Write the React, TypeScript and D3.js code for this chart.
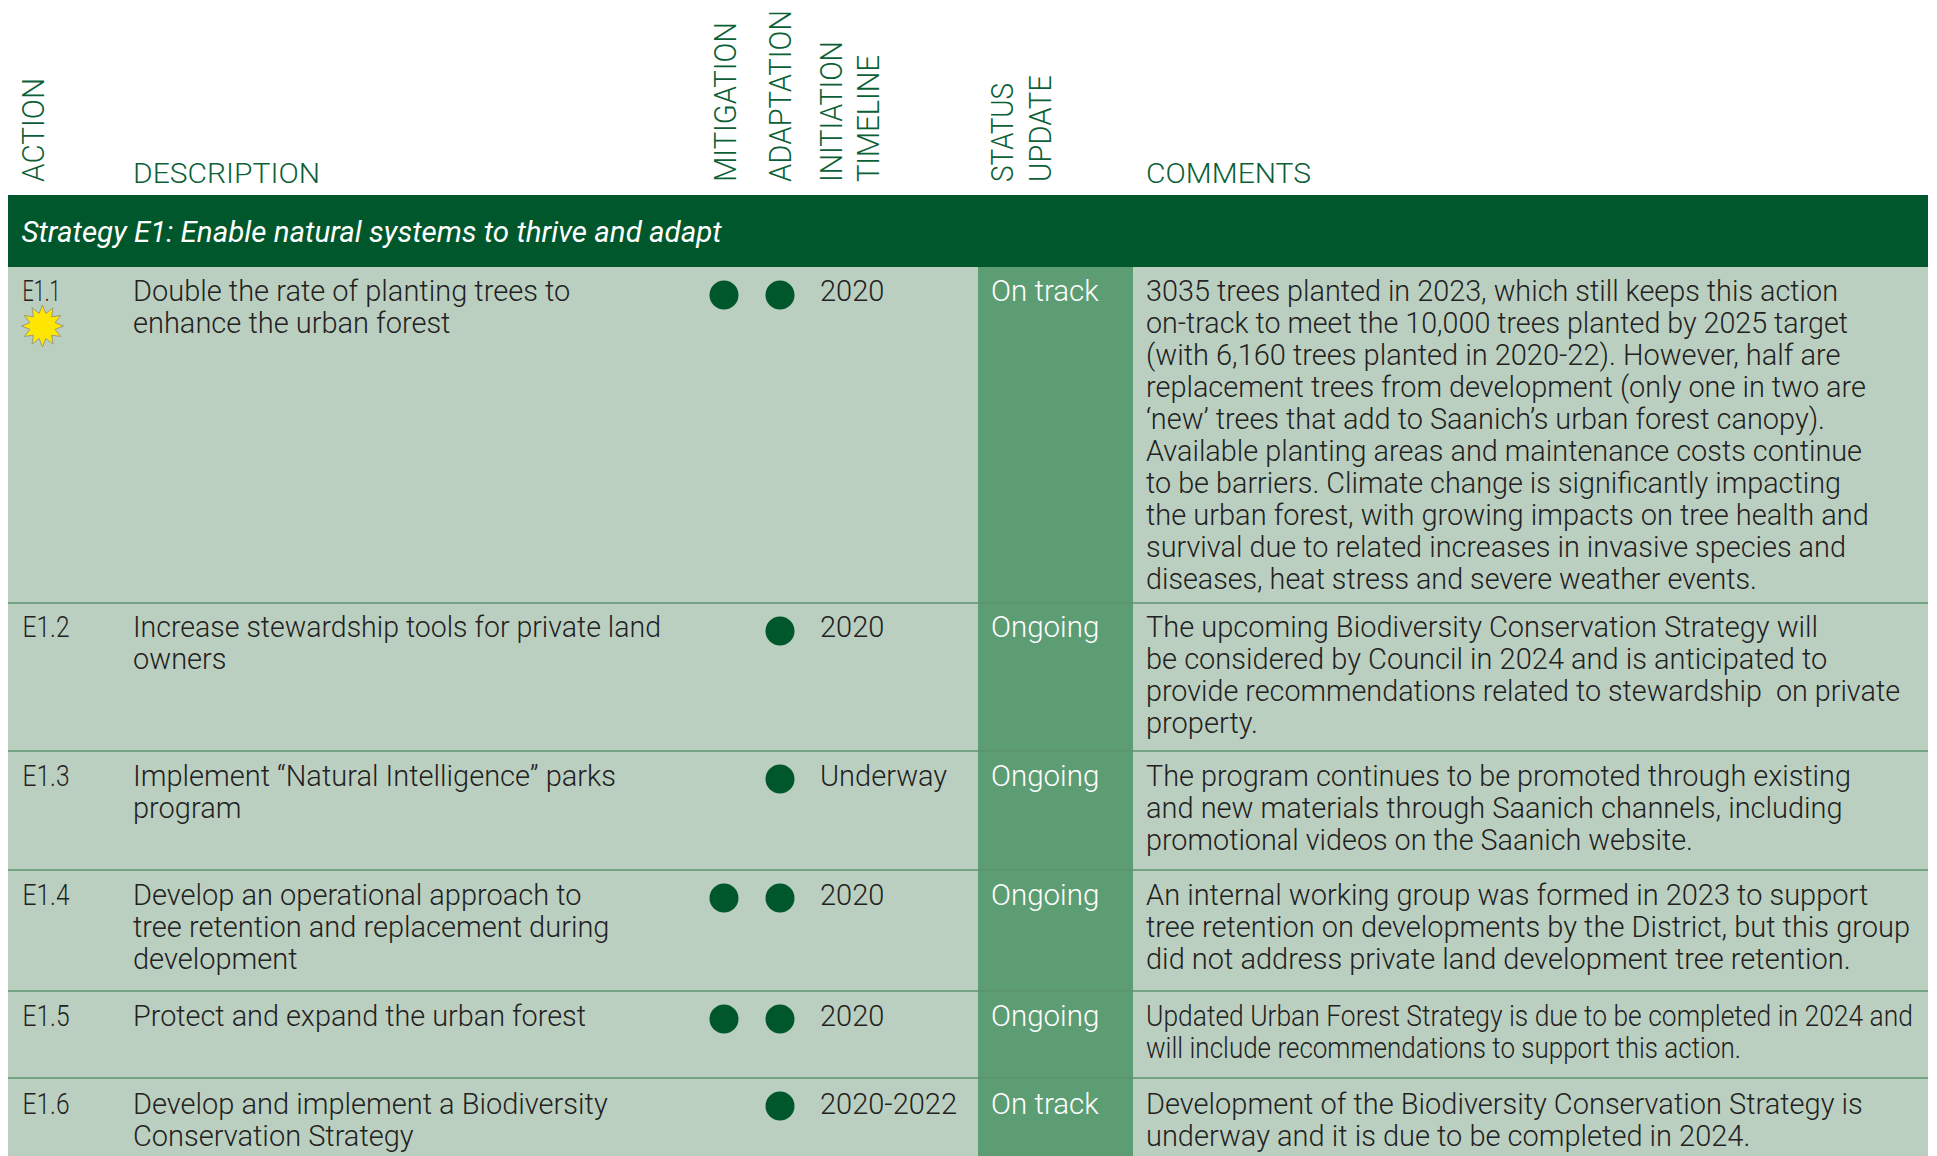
import React from 'react';
import * as d3 from 'd3';

const actions = ['E1.1', 'E1.2', 'E1.3', 'E1.4', 'E1.5', 'E1.6'];
const descriptions = [
  ['Double the rate of planting trees to', 'enhance the urban forest'],
  ['Increase stewardship tools for private land', 'owners'],
  ['Implement “Natural Intelligence” parks', 'program'],
  ['Develop an operational approach to', 'tree retention and replacement during', 'development'],
  ['Protect and expand the urban forest'],
  ['Develop and implement a Biodiversity', 'Conservation Strategy'],
];
const mitigation = [true, false, false, true, true, false];
const adaptation = [true, true, true, true, true, true];
const timeline = ['2020', '2020', 'Underway', '2020', '2020', '2020-2022'];
const statuses = ['On track', 'Ongoing', 'Ongoing', 'Ongoing', 'Ongoing', 'On track'];
const comments = [
  [
    '3035 trees planted in 2023, which still keeps this action',
    'on-track to meet the 10,000 trees planted by 2025 target',
    '(with 6,160 trees planted in 2020-22). However, half are',
    'replacement trees from development (only one in two are',
    '‘new’ trees that add to Saanich’s urban forest canopy).',
    'Available planting areas and maintenance costs continue',
    'to be barriers. Climate change is significantly impacting',
    'the urban forest, with growing impacts on tree health and',
    'survival due to related increases in invasive species and',
    'diseases, heat stress and severe weather events.',
  ],
  [
    'The upcoming Biodiversity Conservation Strategy will',
    'be considered by Council in 2024 and is anticipated to',
    'provide recommendations related to stewardship  on private',
    'property.',
  ],
  [
    'The program continues to be promoted through existing',
    'and new materials through Saanich channels, including',
    'promotional videos on the Saanich website.',
  ],
  [
    'An internal working group was formed in 2023 to support',
    'tree retention on developments by the District, but this group',
    'did not address private land development tree retention.',
  ],
  [
    'Updated Urban Forest Strategy is due to be completed in 2024 and',
    'will include recommendations to support this action.',
  ],
  [
    'Development of the Biodiversity Conservation Strategy is',
    'underway and it is due to be completed in 2024.',
  ],
];
const strategyTitle = 'Strategy E1: Enable natural systems to thrive and adapt';

const W = 1937;
const H = 1156;
const TABLE_L = 8;
const TABLE_R = 1928;
const BAND_TOP = 195;
const BAND_BOTTOM = 267;
const LINE_H = 32;
const DARK = '#00572c';
const LIGHT = '#bbcfc0';
const MID = '#5d9d74';
const HEAD = '#0c5f36';
const INK = '#222';
const BODY = 'Roboto, sans-serif';

// row edges and first baselines
const rowEdges = [267, 603, 751, 870, 991, 1078, 1156];
const baseOffsets = [34, 34, 35, 35, 35, 36];
const y = d3.scaleOrdinal<string, number>().domain(actions).range(rowEdges);

// the E1.x labels are set tight in the original
const actionWidths = [38, 47, 47, 47, 47, 47];
// lines whose width in the original differs from what Roboto gives
const lineWidths: Record<string, number> = {
  'Updated Urban Forest Strategy is due to be completed in 2024 and': 767,
  'will include recommendations to support this action.': 595,
  '3035 trees planted in 2023, which still keeps this action': 692,
  'on-track to meet the 10,000 trees planted by 2025 target': 702,
  'replacement trees from development (only one in two are': 720,
  '‘new’ trees that add to Saanich’s urban forest canopy).': 679,
  'Available planting areas and maintenance costs continue': 716,
  'to be barriers. Climate change is significantly impacting': 695,
  'survival due to related increases in invasive species and': 700,
  'diseases, heat stress and severe weather events.': 611,
  'provide recommendations related to stewardship  on private': 754,
  'The program continues to be promoted through existing': 705,
  'promotional videos on the Saanich website.': 547,
  'Increase stewardship tools for private land': 528,
  'Protect and expand the urban forest': 453,
};

// rotated header labels: label, baseline x, length
const rotatedHeaders: [string, number, number][] = [
  ['ACTION', 43.5, 104],
  ['MITIGATION', 736, 160],
  ['ADAPTATION', 791, 172],
  ['INITIATION', 841.5, 141],
  ['TIMELINE', 879, 127],
  ['STATUS', 1013, 99],
  ['UPDATE', 1050.5, 107],
];

const dotX = { mitigation: 724, adaptation: 780 };
const circle = d3.symbol().type(d3.symbolCircle).size(Math.PI * 14.5 * 14.5)() as string;

const starPoints = d3.range(24).map((i) => [
  (i * Math.PI) / 12,
  i % 2 === 0 ? 21 : 13,
]) as [number, number][];
const star = d3.lineRadial().curve(d3.curveLinearClosed)(starPoints) as string;

export default function App() {
  return (
    <svg
      width={W}
      height={H}
      viewBox={`0 0 ${W} ${H}`}
      style={{ position: 'absolute', left: 0, top: 0, background: '#fff' }}
    >
      {rotatedHeaders.map(([label, x, len]) => (
        <text
          key={label}
          transform={`translate(${x},182) rotate(-90)`}
          fontFamily={BODY}
          fontWeight={300}
          fontSize={31}
          fill={HEAD}
          textLength={len}
          lengthAdjust="spacingAndGlyphs"
        >
          {label}
        </text>
      ))}
      <text x={133} y={183} fontFamily={BODY} fontWeight={300} fontSize={28} fill={HEAD} textLength={187} lengthAdjust="spacingAndGlyphs">
        DESCRIPTION
      </text>
      <text x={1146} y={183} fontFamily={BODY} fontWeight={300} fontSize={28} fill={HEAD} textLength={165} lengthAdjust="spacingAndGlyphs">
        COMMENTS
      </text>

      <rect x={TABLE_L} y={BAND_TOP} width={TABLE_R - TABLE_L} height={BAND_BOTTOM - BAND_TOP} fill={DARK} />
      <text x={21.5} y={242} fontFamily={BODY} fontStyle="italic" fontSize={29.5} fill="#fff">
        {strategyTitle}
      </text>

      <rect x={TABLE_L} y={BAND_BOTTOM} width={TABLE_R - TABLE_L} height={H - BAND_BOTTOM} fill={LIGHT} />
      <rect x={978} y={BAND_BOTTOM} width={155} height={H - BAND_BOTTOM} fill={MID} />

      {actions.map((a, i) => {
        const top = y(a);
        const base = top + baseOffsets[i];
        return (
          <g key={a} fontFamily={BODY} fontSize={29} fontWeight={300} fill={INK}>
            {i > 0 && <line x1={TABLE_L} x2={TABLE_R} y1={top} y2={top} stroke="#5d9470" strokeWidth={1.5} />}
            <text x={22.5} y={base} textLength={actionWidths[i]} lengthAdjust="spacingAndGlyphs">{a}</text>
            {descriptions[i].map((t, j) => (
              <text
                key={j}
                x={133}
                y={base + j * LINE_H}
                textLength={lineWidths[t]}
                lengthAdjust={lineWidths[t] ? 'spacingAndGlyphs' : undefined}
              >
                {t}
              </text>
            ))}
            {mitigation[i] && <path d={circle} transform={`translate(${dotX.mitigation},${top + 28})`} fill={DARK} />}
            {adaptation[i] && <path d={circle} transform={`translate(${dotX.adaptation},${top + 28})`} fill={DARK} />}
            <text x={820} y={base}>{timeline[i]}</text>
            <text x={991} y={base} fontSize={29.5} fill="#fff">{statuses[i]}</text>
            {comments[i].map((t, j) => (
              <text
                key={j}
                x={1146}
                y={base + j * LINE_H}
                style={{ whiteSpace: 'pre' }}
                textLength={lineWidths[t]}
                lengthAdjust={lineWidths[t] ? 'spacingAndGlyphs' : undefined}
              >
                {t}
              </text>
            ))}
          </g>
        );
      })}
      <path d={star} transform="translate(42.5,326)" fill="#ffe600" stroke="#9a9a80" strokeWidth={1} />
    </svg>
  );
}
